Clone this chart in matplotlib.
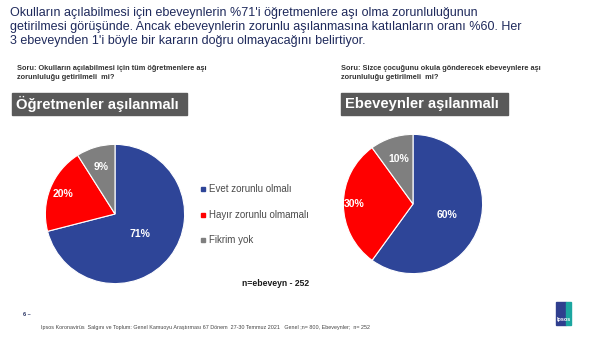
import numpy as np
import matplotlib
matplotlib.use('Agg')
import matplotlib.pyplot as plt
from matplotlib.patches import Rectangle

plt.rcParams['font.family'] = ['Liberation Sans', 'DejaVu Sans']

# data
kategoriler = ['Evet zorunlu olmalı', 'Hayır zorunlu olmamalı', 'Fikrim yok']
ogretmen = [71, 20, 9]
ebeveyn = [60, 30, 10]
renkler = ['#2E4598', '#FF0000', '#7F7F7F']

baslik = ("Okulların açılabilmesi için ebeveynlerin %71'i öğretmenlere aşı olma zorunluluğunun\n"
          "getirilmesi görüşünde. Ancak ebeveynlerin zorunlu aşılanmasına katılanların oranı %60. Her\n"
          "3 ebeveynden 1'i böyle bir kararın doğru olmayacağını belirtiyor.")
soru1 = "Soru: Okulların açılabilmesi için tüm öğretmenlere aşı\nzorunluluğu getirilmeli  mi?"
soru2 = "Soru: Sizce çocuğunu okula gönderecek ebeveynlere aşı\nzorunluluğu getirilmeli  mi?"
kutu1 = "Öğretmenler aşılanmalı"
kutu2 = "Ebeveynler aşılanmalı"
not_n = "n=ebeveyn - 252"
dipnot = ("Ipsos Koronavirüs  Salgını ve Toplum: Genel Kamuoyu Araştırması 67 Dönem  27-30 Temmuz 2021   "
          "Genel ;n= 800, Ebeveynler;  n= 252")

W, H = 600, 338
fig = plt.figure(figsize=(W / 100, H / 100), dpi=100)


def px(x, y):
    # piksel -> figur orani
    return x / W, 1 - y / H


fig.text(*px(10, 7), baslik, fontsize=9.0, color='#1F2A5C', va='top', ha='left',
         linespacing=1.2)

fig.text(*px(17, 65), soru1, fontsize=5.3, color='#333333', va='top', ha='left',
         fontweight='bold', linespacing=1.45)
fig.text(*px(341, 65), soru2, fontsize=5.3, color='#333333', va='top', ha='left',
         fontweight='bold', linespacing=1.45)

# gri kutular
for (x0, x1, t) in [(12, 187, kutu1), (341, 508, kutu2)]:
    fig.patches.append(Rectangle(px(x0, 115), (x1 - x0) / W, 22 / H,
                                 transform=fig.transFigure, color='#595959'))
    fig.text(*px(x0 + 4, 104), t, fontsize=10.6, color='white', fontweight='bold',
             va='center', ha='left')


def pasta(ax, degerler, mesafeler):
    wedges, _ = ax.pie(degerler, colors=renkler, startangle=90, counterclock=False,
                       radius=1, wedgeprops=dict(edgecolor='white', linewidth=0.8))
    for w, v, d in zip(wedges, degerler, mesafeler):
        aci = np.deg2rad((w.theta1 + w.theta2) / 2)
        ax.text(d * np.cos(aci), d * np.sin(aci), '{}%'.format(v), color='white',
                fontsize=7.5, fontweight='bold', ha='center', va='center')
    ax.set_xlim(-1.02, 1.02)
    ax.set_ylim(-1.02, 1.02)
    ax.axis('off')


ax1 = fig.add_axes([44 / W, 1 - 285 / H, 142 / W, 142 / H])
pasta(ax1, ogretmen, [0.46, 0.8, 0.7])
ax2 = fig.add_axes([342 / W, 1 - 275 / H, 142 / W, 142 / H])
pasta(ax2, ebeveyn, [0.52, 0.84, 0.68])

# lejant
for i, (k, r) in enumerate(zip(kategoriler, renkler)):
    y = 189 + i * 25.5
    fig.patches.append(Rectangle(px(201, y + 2), 4 / W, 4 / H,
                                 transform=fig.transFigure, color=r))
    fig.text(*px(209, y), k, fontsize=7, color='#4a4a4a', va='center', ha='left')

fig.text(*px(242, 284), not_n, fontsize=6.2, color='#1a1a1a', fontweight='bold',
         va='center', ha='left')

fig.text(*px(23, 315), '6 –', fontsize=4, color='#1F2A5C', fontweight='bold',
         va='center', ha='left')
fig.text(*px(41, 327), dipnot, fontsize=3.9, color='#444444', va='center', ha='left')

# ipsos logosu
fig.patches.append(Rectangle(px(556, 325), 10 / W, 23 / H,
                             transform=fig.transFigure, color='#2F3E8E'))
fig.patches.append(Rectangle(px(566, 325), 5 / W, 23 / H,
                             transform=fig.transFigure, color='#1BA6A0'))
fig.text(*px(563.5, 319), 'Ipsos', fontsize=4, color='white', fontweight='bold',
         va='center', ha='center')

plt.savefig('out.png', dpi=100)
